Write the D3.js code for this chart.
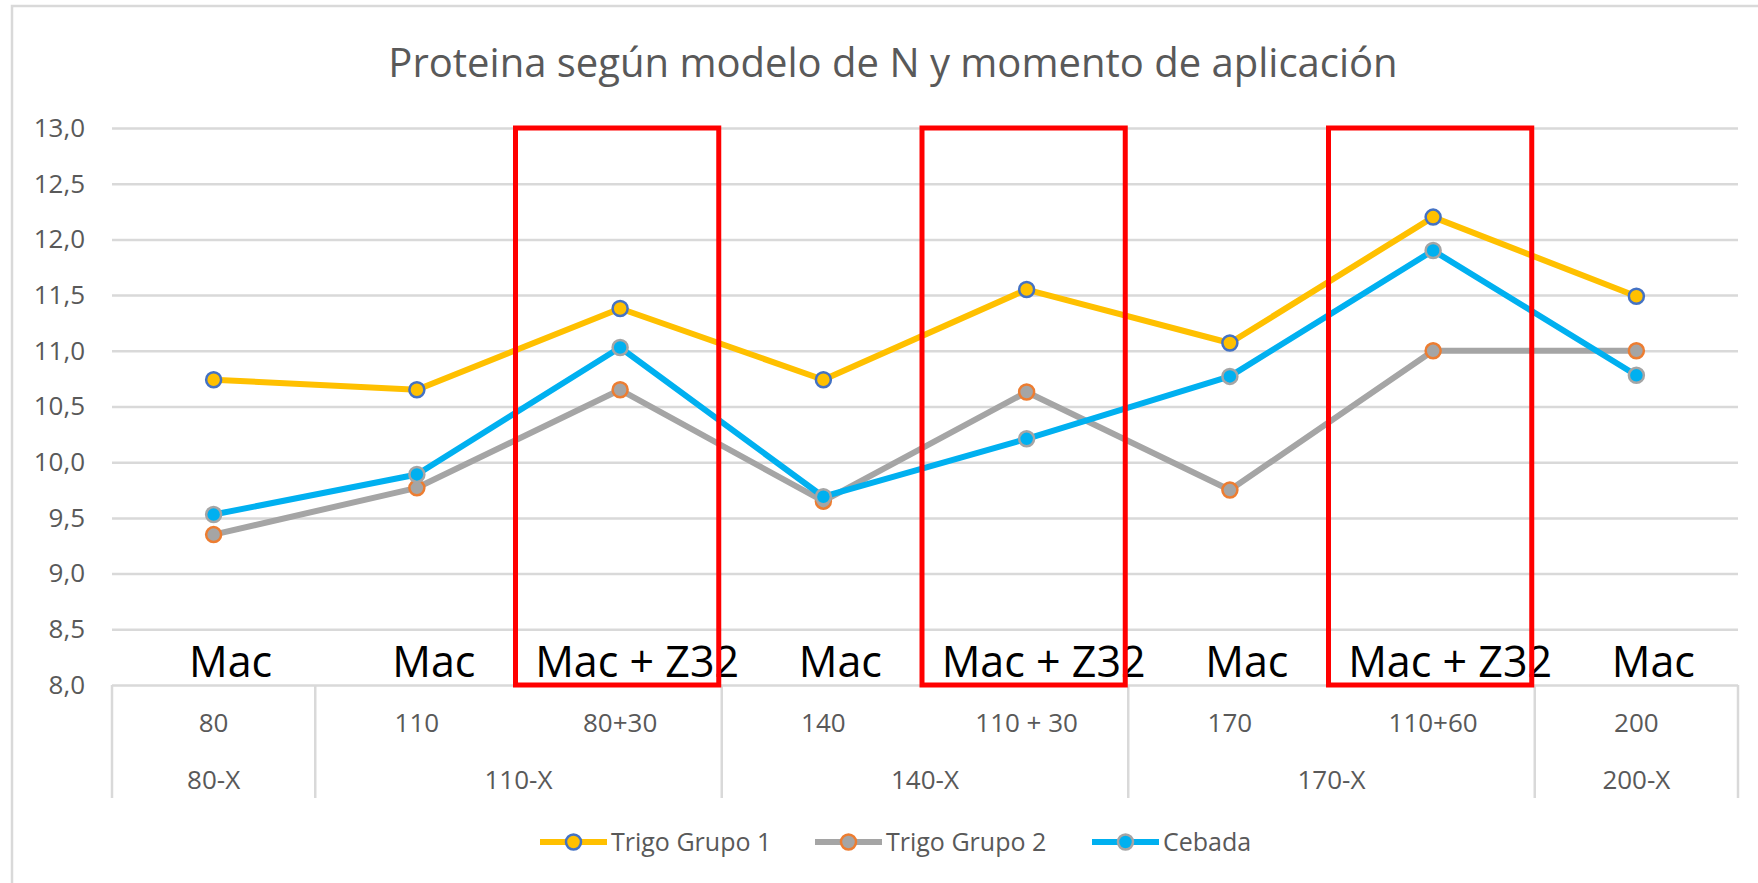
<!DOCTYPE html>
<html>
<head>
<meta charset="utf-8">
<script src="https://cdn.jsdelivr.net/npm/d3@7"></script>
<style>
  body { margin: 0; background: #fff; }
  text { font-family: "Open Sans", sans-serif; }
</style>
</head>
<body>
<script>
const width = 1758;
const height = 883;

// data
const categories = ["80", "110", "80+30", "140", "110 + 30", "170", "110+60", "200"];
const groups = ["80-X", "110-X", "110-X", "140-X", "140-X", "170-X", "170-X", "200-X"];
const notes = ["Mac", "Mac", "Mac + Z32", "Mac", "Mac + Z32", "Mac", "Mac + Z32", "Mac"];
const highlighted = ["80+30", "110 + 30", "110+60"];

const trigo1 = [10.74, 10.65, 11.38, 10.74, 11.55, 11.07, 12.20, 11.49];
const trigo2 = [9.35, 9.77, 10.65, 9.65, 10.63, 9.75, 11.00, 11.00];
const cebada = [9.53, 9.89, 11.03, 9.69, 10.21, 10.77, 11.90, 10.78];

const yTicks = [8, 8.5, 9, 9.5, 10, 10.5, 11, 11.5, 12, 12.5, 13];

const series = [
  { name: "Trigo Grupo 1", values: trigo1, line: "#FFC000", fill: "#FFC000", edge: "#4472C4" },
  { name: "Trigo Grupo 2", values: trigo2, line: "#A5A5A5", fill: "#A5A5A5", edge: "#ED7D31" },
  { name: "Cebada", values: cebada, line: "#00B0F0", fill: "#00B0F0", edge: "#A5A5A5" }
];

const plot = { left: 112, right: 1738, top: 128, bottom: 685 };
const axisBottom = 798;

const svg = d3.select("body")
  .append("svg")
  .attr("width", width)
  .attr("height", height);

// chart border (only top/left visible in the crop)
svg.append("rect")
  .attr("x", 12).attr("y", 6)
  .attr("width", width + 20).attr("height", height + 20)
  .attr("fill", "none")
  .attr("stroke", "#D9D9D9")
  .attr("stroke-width", 2.5);

const xScale = d3.scaleBand()
  .domain(categories)
  .range([plot.left, plot.right]);

const yScale = d3.scaleLinear()
  .domain([8, 13])
  .range([plot.bottom, plot.top]);

// title
svg.append("text")
  .attr("x", 893)
  .attr("y", 77)
  .attr("text-anchor", "middle")
  .attr("fill", "#595959")
  .attr("font-size", 40)
  .text("Proteina según modelo de N y momento de aplicación");

// gridlines + y labels
const yAxis = d3.axisLeft(yScale)
  .tickValues(yTicks)
  .tickSize(-(plot.right - plot.left))
  .tickPadding(27)
  .tickFormat(d => d3.format(".1f")(d).replace(".", ","));

const gy = svg.append("g")
  .attr("transform", `translate(${plot.left},0)`)
  .call(yAxis);
gy.select(".domain").remove();
gy.selectAll(".tick line")
  .attr("stroke", "#D9D9D9")
  .attr("stroke-width", 2.5);
gy.selectAll(".tick text")
  .attr("fill", "#595959")
  .attr("font-size", 26)
  .attr("font-family", "Open Sans, sans-serif");

// category axis: first row of labels
svg.append("g")
  .selectAll("text")
  .data(categories)
  .join("text")
  .attr("x", d => xScale(d) + xScale.bandwidth() / 2)
  .attr("y", 723)
  .attr("dy", "0.35em")
  .attr("text-anchor", "middle")
  .attr("fill", "#595959")
  .attr("font-size", 26)
  .text(d => d);

// group spans
const groupSpans = [];
categories.forEach((c, i) => {
  const g = groups[i];
  const last = groupSpans[groupSpans.length - 1];
  if (last && last.name === g) last.end = c;
  else groupSpans.push({ name: g, start: c, end: c });
});

svg.append("g")
  .selectAll("text")
  .data(groupSpans)
  .join("text")
  .attr("x", d => (xScale(d.start) + xScale(d.end) + xScale.bandwidth()) / 2)
  .attr("y", 780)
  .attr("dy", "0.35em")
  .attr("text-anchor", "middle")
  .attr("fill", "#595959")
  .attr("font-size", 26)
  .text(d => d.name);

// dividers between groups
const dividers = [xScale(categories[0])].concat(groupSpans.map(d => xScale(d.end) + xScale.bandwidth()));
dividers.splice(1, 0, xScale(categories[1]));
svg.append("g")
  .selectAll("line")
  .data(Array.from(new Set(dividers)))
  .join("line")
  .attr("x1", d => d).attr("x2", d => d)
  .attr("y1", plot.bottom).attr("y2", axisBottom)
  .attr("stroke", "#D9D9D9")
  .attr("stroke-width", 2.5);

// annotations
svg.append("g")
  .selectAll("text")
  .data(notes)
  .join("text")
  .attr("x", (d, i) => xScale(categories[i]) + xScale.bandwidth() / 2 + 17)
  .attr("y", 677)
  .attr("text-anchor", "middle")
  .attr("fill", "#000")
  .attr("font-size", 43)
  .text(d => d);

// series
const line = d3.line()
  .x((d, i) => xScale(categories[i]) + xScale.bandwidth() / 2)
  .y(d => yScale(d));

series.forEach(s => {
  svg.append("path")
    .datum(s.values)
    .attr("d", line)
    .attr("fill", "none")
    .attr("stroke", s.line)
    .attr("stroke-width", 6)
    .attr("stroke-linejoin", "round");

  svg.append("g")
    .selectAll("circle")
    .data(s.values)
    .join("circle")
    .attr("cx", (d, i) => xScale(categories[i]) + xScale.bandwidth() / 2)
    .attr("cy", d => yScale(d))
    .attr("r", 7.5)
    .attr("fill", s.fill)
    .attr("stroke", s.edge)
    .attr("stroke-width", 2.5);
});

// red highlight boxes
svg.append("g")
  .selectAll("rect")
  .data(highlighted)
  .join("rect")
  .attr("x", d => xScale(d) - 3)
  .attr("y", yScale(13))
  .attr("width", xScale.bandwidth())
  .attr("height", yScale(8) - yScale(13))
  .attr("fill", "none")
  .attr("stroke", "#FF0000")
  .attr("stroke-width", 5);

// legend
const legendX = [540, 815, 1092];
const leg = svg.append("g")
  .selectAll("g")
  .data(series)
  .join("g")
  .attr("transform", (d, i) => `translate(${legendX[i]},842)`);

leg.append("line")
  .attr("x1", 0).attr("x2", 67)
  .attr("stroke", d => d.line)
  .attr("stroke-width", 6);
leg.append("circle")
  .attr("cx", 33.5)
  .attr("r", 7.5)
  .attr("fill", d => d.fill)
  .attr("stroke", d => d.edge)
  .attr("stroke-width", 2.5);
leg.append("text")
  .attr("x", 71)
  .attr("dy", "0.35em")
  .attr("fill", "#595959")
  .attr("font-size", 25)
  .text(d => d.name);
</script>
</body>
</html>
